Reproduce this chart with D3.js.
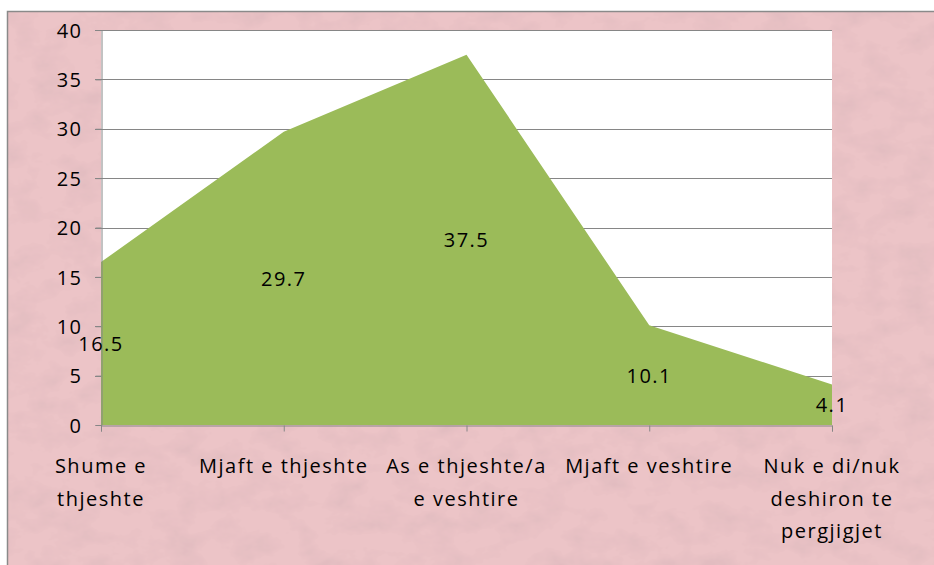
<!DOCTYPE html>
<html>
<head>
<meta charset="utf-8">
<script src="https://cdn.jsdelivr.net/npm/d3@7"></script>
<style>
  body { margin: 0; background: #fff; }
  svg { display: block; font-family: "Open Sans", Lato, sans-serif; }
  svg text { font-family: "Open Sans", Lato, sans-serif; font-size: 20px; letter-spacing: 1.5px; fill: #000; }
</style>
</head>
<body>
<script>
const categories = [
  ['Shume e', 'thjeshte'],
  ['Mjaft e thjeshte'],
  ['As e thjeshte/a', 'e veshtire'],
  ['Mjaft e veshtire'],
  ['Nuk e di/nuk', 'deshiron te', 'pergjigjet']
];
const values = [16.5, 29.7, 37.5, 10.1, 4.1];
const yTicks = [0, 5, 10, 15, 20, 25, 30, 35, 40];

const width = 934;
const height = 565;
const plot = { left: 101, right: 832, top: 30, bottom: 425 };

const svg = d3.select('body').append('svg')
  .attr('width', width)
  .attr('height', height);

// textured pink background
const defs = svg.append('defs');
const filter = defs.append('filter').attr('id', 'paper')
  .attr('x', 0).attr('y', 0).attr('width', '100%').attr('height', '100%');
filter.append('feTurbulence')
  .attr('type', 'fractalNoise')
  .attr('baseFrequency', '0.03 0.045')
  .attr('numOctaves', 4)
  .attr('seed', 7)
  .attr('result', 'noise');
filter.append('feColorMatrix')
  .attr('in', 'noise')
  .attr('type', 'matrix')
  .attr('values', '0 0 0 0 0.62  0 0 0 0 0.42  0 0 0 0 0.45  0 0 0 -1.3 0.75')
  .attr('result', 'dark');
filter.append('feComposite').attr('in', 'dark').attr('in2', 'SourceGraphic').attr('operator', 'atop');

svg.append('rect')
  .attr('x', 7.5).attr('y', 11.5)
  .attr('width', width).attr('height', height)
  .attr('fill', '#ecc4c7');
svg.append('rect')
  .attr('x', 7.5).attr('y', 11.5)
  .attr('width', width).attr('height', height)
  .attr('fill', '#ecc4c7')
  .attr('filter', 'url(#paper)')
  .attr('opacity', 0.55);
svg.append('rect')
  .attr('x', 7.5).attr('y', 11.5)
  .attr('width', width).attr('height', height)
  .attr('fill', 'none')
  .attr('stroke', '#8a8a8a')
  .attr('stroke-width', 1.5);

const x = d3.scalePoint()
  .domain(d3.range(categories.length))
  .range([plot.left, plot.right]);

const y = d3.scaleLinear()
  .domain([0, 40])
  .range([plot.bottom, plot.top]);

// plot area
svg.append('rect')
  .attr('x', plot.left).attr('y', plot.top)
  .attr('width', plot.right - plot.left)
  .attr('height', plot.bottom - plot.top)
  .attr('fill', '#fff');

// gridlines
svg.append('g')
  .selectAll('line')
  .data(yTicks.filter(d => d > 0))
  .join('line')
  .attr('x1', plot.left - 6).attr('x2', plot.right)
  .attr('y1', d => Math.round(y(d)) + 0.5)
  .attr('y2', d => Math.round(y(d)) + 0.5)
  .attr('stroke', '#868686')
  .attr('stroke-width', 1);

// area
const area = d3.area()
  .x((d, i) => x(i))
  .y0(y(0))
  .y1(d => y(d));

svg.append('path')
  .datum(values)
  .attr('d', area)
  .attr('fill', '#9bbb59');

// y axis
const yAxis = svg.append('g')
  .attr('transform', `translate(${plot.left + 0.5},0)`)
  .call(d3.axisLeft(y).tickValues(yTicks).tickSize(6).tickPadding(13));
yAxis.attr('font-size', null).attr('font-family', null);
yAxis.select('.domain').attr('stroke', '#868686');
yAxis.selectAll('.tick line').attr('stroke', '#868686');
yAxis.selectAll('.tick text').attr('fill', '#000').attr('dy', '0.36em');

// x axis
const xAxis = svg.append('g')
  .attr('transform', `translate(0,${plot.bottom + 0.5})`)
  .call(d3.axisBottom(x).tickSize(6).tickFormat(''));
xAxis.select('.domain').attr('stroke', '#868686');
xAxis.selectAll('.tick line').attr('stroke', '#868686');

// category labels
svg.append('g')
  .selectAll('text')
  .data(categories)
  .join('text')
  .attr('text-anchor', 'middle')
  .each(function (lines, i) {
    d3.select(this).selectAll('tspan')
      .data(lines)
      .join('tspan')
      .attr('x', x(i))
      .attr('y', (d, j) => 473 + j * 32.5)
      .text(d => d);
  });

// data labels at half height
svg.append('g')
  .selectAll('text')
  .data(values)
  .join('text')
  .attr('x', (d, i) => x(i))
  .attr('y', d => y(d / 2))
  .attr('dy', '0.38em')
  .attr('text-anchor', 'middle')
  .text(d => d.toFixed(1));
</script>
</body>
</html>
